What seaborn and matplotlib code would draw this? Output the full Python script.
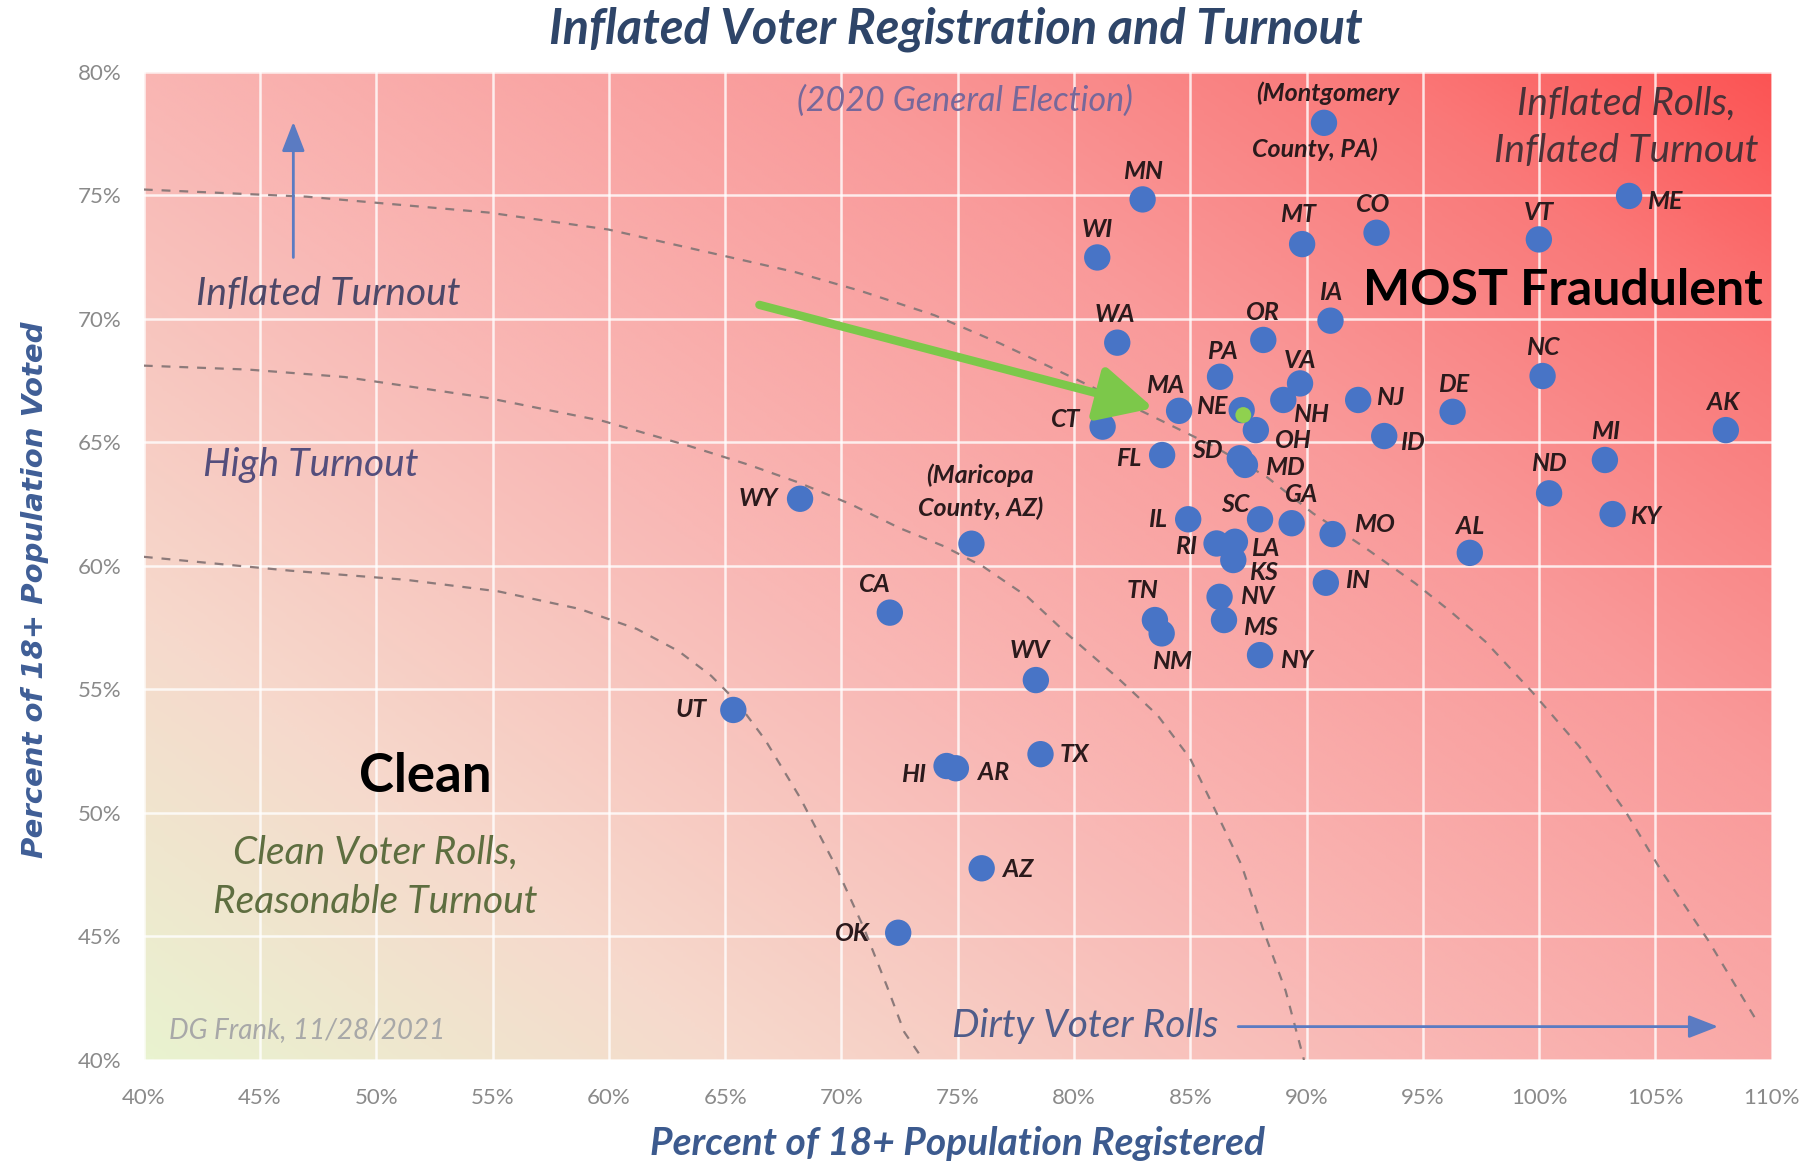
import numpy as np
import pandas as pd
import matplotlib
matplotlib.use('Agg')
import matplotlib.pyplot as plt
from matplotlib.colors import LinearSegmentedColormap
from matplotlib.ticker import MultipleLocator, FuncFormatter
import seaborn as sns

# state values (percent of 18+ population)
states = ['MN', 'WI', 'MT', 'CO', 'VT', 'ME', 'IA', 'WA', 'OR', 'PA',
          'VA', 'NH', 'NC', 'NJ', 'DE', 'AK', 'MA', 'NE', 'OH', 'CT',
          'FL', 'SD', 'MD', 'ID', 'MI', 'ND', 'KY', 'WY', 'IL', 'SC',
          'GA', 'MO', 'RI', 'LA', 'KS', 'AL', 'IN', 'CA', 'NV', 'TN',
          'NM', 'MS', 'NY', 'WV', 'UT', 'TX', 'HI', 'AR', 'AZ', 'OK']
registered = [82.95, 81.0, 89.81, 93.01, 99.99, 103.87, 91.03, 81.86, 88.14, 86.28,
              89.72, 89.0, 100.15, 92.22, 96.28, 108.03, 84.52, 87.21, 87.82, 81.23,
              83.79, 87.13, 87.35, 93.34, 102.83, 100.43, 103.16, 68.22, 84.91, 88.0,
              89.36, 91.12, 86.13, 86.92, 86.85, 97.02, 90.83, 72.08, 86.26, 83.48,
              83.77, 86.45, 88.0, 78.36, 65.35, 78.56, 74.52, 74.92, 76.03, 72.44]
voted = [74.84, 72.49, 73.03, 73.49, 73.22, 74.98, 69.93, 69.04, 69.15, 67.66,
         67.39, 66.72, 67.69, 66.72, 66.24, 65.5, 66.28, 66.31, 65.5, 65.64,
         64.49, 64.36, 64.09, 65.26, 64.29, 62.94, 62.1, 62.72, 61.89, 61.89,
         61.73, 61.29, 60.91, 60.98, 60.24, 60.53, 59.32, 58.11, 58.75, 57.81,
         57.27, 57.81, 56.39, 55.38, 54.17, 52.38, 51.9, 51.81, 47.76, 45.15]

counties = ['Montgomery County, PA', 'Maricopa County, AZ']
county_registered = [90.75, 75.59]
county_voted = [77.94, 60.9]

# highlighted point (green dot)
highlight_registered = [87.28]
highlight_voted = [66.11]

# dashed reference curves
curve_outer_x = [40, 47.0, 54.8, 59.98, 64.92, 68.0, 70.84, 74.0, 76.82, 80.0, 83.41,
                 86.0, 88.28, 90.28, 92.5, 94.67, 96.2, 97.69, 99.7, 101.72, 103.73,
                 105.24, 107.26, 109.27]
curve_outer_y = [75.24, 74.95, 74.31, 73.62, 72.56, 71.9, 71.13, 70.15, 69.01, 67.6, 66.04,
                 64.85, 63.61, 62.13, 60.75, 59.3, 58.15, 56.94, 54.9, 52.7, 50.04,
                 47.68, 44.86, 41.72]
curve_mid_x = [40, 44.5, 48.63, 54.8, 59.74, 63.44, 66.0, 68.12, 70.4, 72.51, 74.4, 76.1,
               78.0, 79.68, 81.83, 83.59, 85.0, 86.11, 87.2, 88.12, 89.1, 89.89]
curve_mid_y = [68.11, 67.95, 67.65, 66.8, 65.87, 64.86, 64.1, 63.39, 62.5, 61.53, 60.8, 59.97,
               58.75, 57.27, 55.51, 53.96, 52.2, 50.04, 47.9, 45.32, 42.8, 40.0]
curve_inner_x = [40, 46.28, 51.27, 55.25, 58.74, 61.2, 63.0, 64.4, 65.5, 66.72, 68.22,
                 69.71, 70.96, 71.95, 72.7, 73.52]
curve_inner_y = [60.37, 59.81, 59.44, 58.97, 58.26, 57.45, 56.55, 55.55, 54.5, 52.96, 50.62,
                 47.93, 45.35, 43.0, 41.13, 40.0]

# label offsets in pixels (dx, dy up)
label_offset = {
    'MN': (0, 28), 'WI': (0, 28), 'MT': (-4, 30), 'CO': (-3, 28), 'VT': (0, 27),
    'ME': (36, -6), 'IA': (0, 28), 'WA': (-2, 28), 'OR': (0, 27), 'PA': (2, 25),
    'VA': (0, 23), 'NH': (28, -15), 'NC': (0, 29), 'NJ': (32, 2), 'DE': (1, 27),
    'AK': (-3, 28), 'MA': (-14, 25), 'NE': (-30, 4), 'OH': (38, -10), 'CT': (-37, 7),
    'FL': (-33, -3), 'SD': (-32, 8), 'MD': (40, -3), 'ID': (28, -6), 'MI': (1, 28),
    'ND': (0, 30), 'KY': (33, -2), 'WY': (-42, 0), 'IL': (-31, 0), 'SC': (-25, 15),
    'GA': (10, 29), 'MO': (42, 10), 'RI': (-31, -3), 'LA': (30, -7), 'KS': (30, -12),
    'AL': (0, 26), 'IN': (32, 2), 'CA': (-15, 28), 'NV': (38, 0), 'TN': (-12, 30),
    'NM': (10, -28), 'MS': (36, -7), 'NY': (37, -5), 'WV': (-6, 30), 'UT': (-42, 0),
    'TX': (34, 0), 'HI': (-33, -8), 'AR': (38, -4), 'AZ': (36, -1), 'OK': (-46, -1),
}

df = pd.DataFrame({'state': states, 'registered': registered, 'voted': voted})

sns.set_theme(style='white')
plt.rcParams['font.family'] = ['Lato', 'DejaVu Sans']

fig = plt.figure(figsize=(18.18, 11.68), dpi=100)
ax = fig.add_axes([0.0791, 0.0925, 0.8954, 0.8459])

# background gradient: green bottom-left to red top-right
grad_cmap = LinearSegmentedColormap.from_list(
    'bg', [(0.0, '#e9f3d0'), (0.2, '#f6d9cc'), (0.42, '#f9b9b6'),
           (0.68, '#f99a9a'), (0.87, '#fa7878'), (1.0, '#fc5454')])
u = np.linspace(0, 1, 400)
U, V = np.meshgrid(u, u)
ax.imshow(0.55 * U + 0.45 * V, cmap=grad_cmap, origin='lower', aspect='auto',
          extent=[40, 110, 40, 80], zorder=0, interpolation='bilinear')

ax.set_xlim(40, 110)
ax.set_ylim(40, 80)
ax.xaxis.set_major_locator(MultipleLocator(5))
ax.yaxis.set_major_locator(MultipleLocator(5))
pct = FuncFormatter(lambda v, _: '{:.0f}%'.format(v))
ax.xaxis.set_major_formatter(pct)
ax.yaxis.set_major_formatter(pct)
ax.grid(True, color='white', linewidth=1.8, alpha=0.8)
ax.set_axisbelow(True)
ax.tick_params(length=0, labelsize=16, labelcolor='#8a8a8a')
ax.tick_params(axis='y', pad=16)
ax.tick_params(axis='x', pad=20)
for s in ax.spines.values():
    s.set_visible(False)

dash_kw = dict(color='#8c7a7a', linewidth=1.6, dashes=(4, 4), sort=False, estimator=None,
               ax=ax, zorder=2, legend=False)
sns.lineplot(x=curve_outer_x, y=curve_outer_y, **dash_kw)
sns.lineplot(x=curve_mid_x, y=curve_mid_y, **dash_kw)
sns.lineplot(x=curve_inner_x, y=curve_inner_y, **dash_kw)

sns.scatterplot(data=df, x='registered', y='voted', ax=ax, s=360, color='#4874c6',
                edgecolor='none', zorder=4, legend=False)
sns.scatterplot(x=county_registered, y=county_voted, ax=ax, s=360, color='#4874c6',
                edgecolor='none', zorder=4, legend=False)
sns.scatterplot(x=highlight_registered, y=highlight_voted, ax=ax, s=130, color='#8fd14f',
                edgecolor='none', zorder=5, legend=False)

lab_kw = dict(textcoords='offset pixels', ha='center', va='center', fontsize=18,
              fontweight='bold', fontstyle='italic', color='#2b1a1c', zorder=6)
for st, xv, yv in zip(states, registered, voted):
    ax.annotate(st, (xv, yv), xytext=label_offset[st], **lab_kw)

ax.annotate('(Montgomery', (county_registered[0], county_voted[0]), xytext=(4, 30), **lab_kw)
ax.annotate('County, PA)', (county_registered[0], county_voted[0]), xytext=(-9, -26), **lab_kw)
ax.annotate('(Maricopa\nCounty, AZ)', (county_registered[1], county_voted[1]), xytext=(9, 52),
            linespacing=1.45, **lab_kw)

it_kw = dict(fontsize=28, fontstyle='italic', ha='center', va='center', zorder=6)
ax.text(75.29, 78.83, '(2020 General Election)', color='#77689a', **{**it_kw, 'fontsize': 24.5})
ax.text(103.76, 78.73, 'Inflated Rolls,', color='#4a3238', **it_kw)
ax.text(103.76, 76.81, 'Inflated Turnout', color='#4a3238', **it_kw)
ax.text(47.92, 70.99, 'Inflated Turnout', color='#4d4868', **it_kw)
ax.text(47.18, 64.09, 'High Turnout', color='#544e7c', **it_kw)
ax.text(49.97, 48.37, 'Clean Voter Rolls,', color='#5e6e40', **it_kw)
ax.text(49.97, 46.39, 'Reasonable Turnout', color='#5e6e40', **it_kw)
ax.text(47.03, 41.23, 'DG Frank, 11/28/2021', color='#a8a8a8', **{**it_kw, 'fontsize': 20})
ax.text(80.48, 41.37, 'Dirty Voter Rolls', color='#4f5c8a', **it_kw)

ax.text(101.02, 71.17, 'MOST Fraudulent', fontsize=36, fontweight='bold', color='black',
        ha='center', va='center', zorder=6)
ax.text(52.11, 51.46, 'Clean', fontsize=38, fontweight='bold', color='black',
        ha='center', va='center', zorder=6)

blue_arrow = dict(arrowstyle='-|>,head_length=0.9,head_width=0.35', color='#5b7bc2', lw=2,
                  mutation_scale=20, shrinkA=0, shrinkB=0)
ax.annotate('', xy=(46.43, 77.98), xytext=(46.43, 72.49), arrowprops=blue_arrow, zorder=5)
ax.annotate('', xy=(107.7, 41.35), xytext=(87.06, 41.35), arrowprops=blue_arrow, zorder=5)

ax.annotate('', xy=(83.42, 66.39), xytext=(66.47, 70.57), zorder=5,
            arrowprops=dict(arrowstyle='-|>,head_length=1.4,head_width=0.7', color='#7cc84a',
                            lw=6, mutation_scale=24, shrinkA=0, shrinkB=0))

ax.set_xlabel('Percent of 18+ Population Registered', fontsize=28, fontweight='bold',
              fontstyle='italic', color='#3c5a8e', va='center')
ax.xaxis.set_label_coords(0.5, -0.085)
ax.set_ylabel('Percent of 18+ Population Voted', fontsize=21, fontweight='bold',
              fontstyle='italic', color='#3f5e96', family=['DejaVu Sans'], va='center')
ax.yaxis.set_label_coords(-0.067, 0.476)
fig.text(0.526, 0.975, 'Inflated Voter Registration and Turnout', fontsize=35,
         fontweight='bold', fontstyle='italic', color='#2e4569', ha='center', va='center')

fig.savefig('out.png', dpi=100)
